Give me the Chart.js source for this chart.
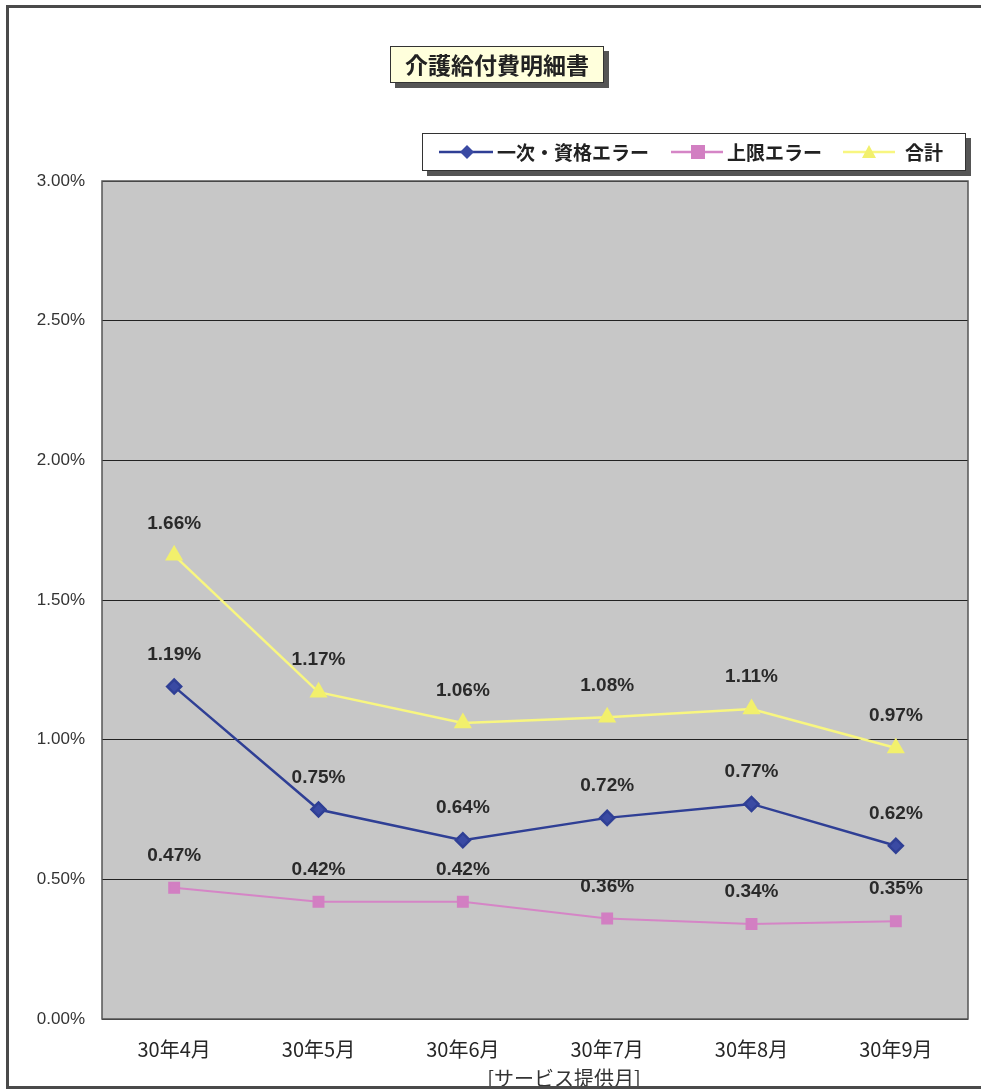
<!DOCTYPE html>
<html>
<head>
<meta charset="utf-8">
<script src="https://cdn.jsdelivr.net/npm/chart.js@4"></script>
<style>
  html,body{margin:0;padding:0;background:#fff;}
  #wrap{position:relative;width:981px;height:1091px;overflow:hidden;background:#fff;}
  #frame{position:absolute;left:6px;top:5px;width:1000px;height:1084px;border:3px solid #4a4a4a;box-sizing:border-box;}
  canvas{position:absolute;left:0;top:0;}
  #title{position:absolute;left:390px;top:46px;width:214px;height:37px;background:#ffffdc;border:1px solid #333;
    box-shadow:5px 5px 0 #555;font:bold 23px "Noto Sans CJK JP";color:#222;text-align:center;line-height:35px;box-sizing:border-box;}
  #legend{position:absolute;left:422px;top:133px;width:544px;height:38px;background:#fff;border:1px solid #333;
    box-shadow:5px 5px 0 #555;box-sizing:border-box;font:bold 19px "Noto Sans CJK JP";color:#222;}
  .li{position:absolute;top:0;height:36px;line-height:36px;white-space:nowrap;}
  .li svg{position:absolute;top:8px;left:0;}
  .li span{position:absolute;top:0;}
  #xtitle{position:absolute;left:478px;top:1064px;width:172px;text-align:center;font:20px "Noto Sans CJK JP";color:#333;white-space:nowrap;line-height:28px;}
</style>
</head>
<body>
<div id="wrap">
  <canvas id="c" width="981" height="1091"></canvas>
  <div id="xtitle">[サービス提供月]</div>
  <div id="frame"></div>
  <div id="title">介護給付費明細書</div>
  <div id="legend">
    <div class="li" style="left:16px;"><svg width="56" height="20"><line x1="0" y1="10" x2="54" y2="10" stroke="#2f3f95" stroke-width="2.5"/><polygon points="28,3 35,10 28,17 21,10" fill="#3a4aa3"/></svg><span style="left:58px;">一次・資格エラー</span></div>
    <div class="li" style="left:248px;"><svg width="56" height="20"><line x1="0" y1="10" x2="52" y2="10" stroke="#d585c6" stroke-width="2.5"/><rect x="20" y="3" width="14" height="14" fill="#d27fc2"/></svg><span style="left:56px;">上限エラー</span></div>
    <div class="li" style="left:420px;"><svg width="56" height="20"><line x1="0" y1="10" x2="52" y2="10" stroke="#f8f680" stroke-width="2.5"/><polygon points="26,3 33,16 19,16" fill="#f2f06c"/></svg><span style="left:62px;">合計</span></div>
  </div>
</div>
<script>
const categories = ['30年4月','30年5月','30年6月','30年7月','30年8月','30年9月'];
const seriesNames = ['一次・資格エラー','上限エラー','合計'];
const primaryErr = [1.19, 0.75, 0.64, 0.72, 0.77, 0.62];
const limitErr   = [0.47, 0.42, 0.42, 0.36, 0.34, 0.35];
const totalErr   = [1.66, 1.17, 1.06, 1.08, 1.11, 0.97];
const yMin = 0, yMax = 3, yStep = 0.5;

const plotBg = {
  id:'plotBg',
  beforeDraw(chart){
    const {ctx, chartArea:a} = chart;
    ctx.save();
    ctx.fillStyle = '#c7c7c7';
    ctx.fillRect(a.left, a.top, a.right-a.left, a.bottom-a.top);
    ctx.restore();
  },
  afterDraw(chart){
    const {ctx, chartArea:a} = chart;
    ctx.save();
    ctx.strokeStyle = '#555';
    ctx.lineWidth = 1.5;
    ctx.strokeRect(a.left, a.top, a.right-a.left, a.bottom-a.top);
    ctx.restore();
  }
};
const valueLabels = {
  id:'valueLabels',
  afterDatasetsDraw(chart){
    const ctx = chart.ctx;
    ctx.save();
    ctx.font = 'bold 19px "Liberation Sans", Arial, sans-serif';
    ctx.fillStyle = '#2a2a2a';
    ctx.textAlign = 'center';
    ctx.textBaseline = 'middle';
    chart.data.datasets.forEach((ds, i) => {
      const meta = chart.getDatasetMeta(i);
      meta.data.forEach((pt, j) => {
        ctx.fillText(ds.data[j].toFixed(2) + '%', pt.x, pt.y - 32);
      });
    });
    ctx.restore();
  }
};

new Chart(document.getElementById('c'), {
  type:'line',
  data:{
    labels: categories,
    datasets:[
      {label:seriesNames[0], data:primaryErr, borderColor:'#2f3f95', backgroundColor:'#3a4aa3', borderWidth:2.5,
       pointStyle:'rectRot', pointRadius:7, pointBorderColor:'#2f3f95', tension:0},
      {label:seriesNames[1], data:limitErr, borderColor:'#d585c6', backgroundColor:'#d27fc2', borderWidth:2,
       pointStyle:'rect', pointRadius:7, pointBorderColor:'#d27fc2', tension:0},
      {label:seriesNames[2], data:totalErr, borderColor:'#f8f680', backgroundColor:'#f2f06c', borderWidth:2.5,
       pointStyle:'triangle', pointRadius:8, pointBorderColor:'#f2f06c', tension:0}
    ]
  },
  options:{
    responsive:false,
    animation:false,
    devicePixelRatio:1,
    layout:{padding:{top:181, right:13, left:0, bottom:0}},
    plugins:{legend:{display:false}, title:{display:false}, tooltip:{enabled:false}},
    scales:{
      x:{
        offset:true,
        grid:{display:false, drawTicks:false},
        border:{display:false},
        ticks:{font:{family:'"Noto Sans CJK JP"', size:20}, color:'#262626', padding:18, maxRotation:0},
        afterFit(s){ s.height = 72; }
      },
      y:{
        min:yMin, max:yMax,
        ticks:{stepSize:yStep, callback:v => v.toFixed(2)+'%', font:{family:'"Liberation Sans", Arial', size:17}, color:'#333', padding:17},
        grid:{color:'#222', lineWidth:1, drawTicks:false},
        border:{display:false},
        afterFit(s){ s.width = 102; }
      }
    }
  },
  plugins:[plotBg, valueLabels]
});
</script>
</body>
</html>
